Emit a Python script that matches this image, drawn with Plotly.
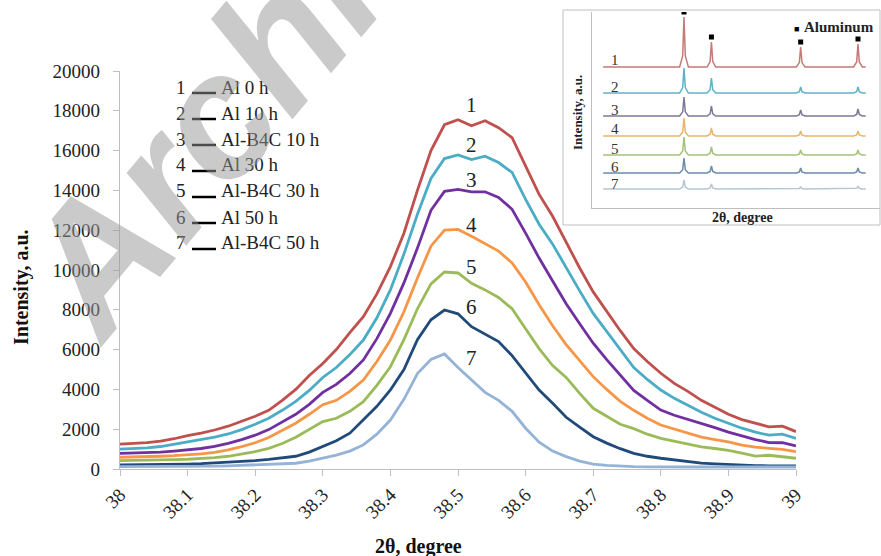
import plotly.graph_objects as go

W, H = 881, 556
def X(px): return px / W
def Y(py): return 1 - py / H

# ---------------- main data ----------------
TWO_THETA = [round(38 + 0.02 * i, 2) for i in range(51)]

AL_0H = [1250, 1280, 1330, 1400, 1520, 1680, 1800, 1960, 2150, 2400,
         2650, 2950, 3450, 4000, 4700, 5300, 6000, 6850, 7650, 8800,
         10170, 11850, 14000, 16000, 17300, 17550, 17250, 17500, 17150, 16650,
         15200, 13800, 12700, 11400, 10100, 8900, 7900, 6950, 6050, 5400,
         4810, 4300, 3900, 3450, 3100, 2750, 2480, 2300, 2120, 2150, 1880]
AL_10H = [1000, 1020, 1060, 1130, 1240, 1370, 1470, 1600, 1760, 1980,
          2250, 2550, 2950, 3400, 3950, 4600, 5100, 5750, 6480, 7600,
          9000, 10800, 12800, 14600, 15600, 15780, 15550, 15720, 15400, 14900,
          13550, 12300, 11300, 10100, 8950, 7820, 6900, 6000, 5100, 4500,
          3970, 3550, 3200, 2850, 2550, 2280, 2050, 1850, 1700, 1750, 1540]
ALB4C_10H = [790, 800, 820, 850, 900, 950, 1030, 1140, 1290, 1480,
             1700, 1980, 2350, 2750, 3250, 3850, 4250, 4800, 5480, 6550,
             7820, 9350, 11100, 13000, 13950, 14050, 13930, 13930, 13650, 13050,
             11850, 10600, 9450, 8300, 7300, 6320, 5500, 4700, 3950, 3450,
             2960, 2700, 2500, 2270, 2080, 1850, 1650, 1480, 1330, 1320, 1160]
AL_30H = [590, 600, 620, 640, 670, 700, 760, 840, 960, 1120,
          1320, 1580, 1930, 2300, 2750, 3230, 3450, 3900, 4470, 5400,
          6480, 7900, 9600, 11200, 12000, 12040, 11700, 11330, 10950, 10350,
          9400, 8250, 7200, 6250, 5450, 4640, 4000, 3400, 2950, 2550,
          2210, 2000, 1800, 1600, 1480, 1360, 1200, 1100, 1040, 990, 870]
ALB4C_30H = [420, 425, 435, 450, 470, 490, 520, 570, 640, 740,
             870, 1040, 1280, 1600, 1980, 2380, 2550, 2900, 3380, 4200,
             5140, 6500, 8050, 9300, 9900, 9850, 9330, 9000, 8620, 8050,
             7050, 6050, 5200, 4600, 3800, 3050, 2650, 2250, 2030, 1750,
             1540, 1400, 1250, 1110, 1030, 940, 800, 650, 690, 630, 540]
AL_50H = [200, 205, 210, 220, 235, 250, 270, 300, 340, 380,
          420, 480, 560, 640, 850, 1150, 1420, 1800, 2460, 3150,
          3970, 5000, 6500, 7500, 7990, 7800, 7150, 6780, 6400, 5700,
          4850, 3970, 3300, 2600, 2100, 1620, 1300, 1020, 790, 640,
          540, 450, 370, 300, 260, 220, 190, 170, 160, 160, 150]
ALB4C_50H = [120, 120, 120, 120, 120, 120, 130, 140, 160, 180,
             200, 230, 260, 290, 400, 560, 700, 900, 1210, 1750,
             2460, 3500, 4800, 5500, 5780, 5100, 4450, 3850, 3450, 2900,
             2050, 1350, 900, 620, 400, 250, 180, 140, 120, 110,
             100, 100, 100, 100, 100, 100, 100, 100, 100, 100, 100]

SERIES = [AL_0H, AL_10H, ALB4C_10H, AL_30H, ALB4C_30H, AL_50H, ALB4C_50H]
NAMES = ["Al 0 h", "Al 10 h", "Al-B4C 10 h", "Al 30 h", "Al-B4C 30 h", "Al 50 h", "Al-B4C 50 h"]
COLORS = ["#C0504D", "#4BACC6", "#7030A0", "#F79646", "#9BBB59", "#1F4A7A", "#95B3D7"]

X_TICKS = [38, 38.1, 38.2, 38.3, 38.4, 38.5, 38.6, 38.7, 38.8, 38.9, 39]
X_TICKTEXT = ["38", "38.1", "38.2", "38.3", "38.4", "38.5", "38.6", "38.7", "38.8", "38.9", "39"]
Y_TICKS = [0, 2000, 4000, 6000, 8000, 10000, 12000, 14000, 16000, 18000, 20000]
Y_TICKTEXT = [str(v) for v in Y_TICKS]

# curve number labels (value near each peak)
LABEL_X = 38.52
LABEL_Y = [18300, 16300, 14500, 12250, 10150, 8150, 5600]

# ---------------- inset data ----------------
INSET_PEAKS = [38.47, 44.74, 65.13, 78.23]
INSET_BASE = [141, 115, 92, 72, 53, 35, 19]
INSET_HEIGHTS = [[50, 25, 20, 23],
                 [25, 15, 6, 6],
                 [19, 10, 6, 7],
                 [18, 8, 5, 5],
                 [18, 8, 5, 5],
                 [15, 7, 5, 5],
                 [9, 5, 2, 3]]
INSET_START, INSET_END = 20, 80
INSET_COLORS = ["#C47A76", "#5DB2C6", "#7D7898", "#EAB46C", "#A6C278", "#6B8CAB", "#B8C6D2"]
MARKER_Y = [196, 171, 166, 169]
PEAK_DX = [-1.0, -0.3, 0, 0.3, 1.0]
PEAK_FRAC = [0, 0.22, 1, 0.22, 0]

fig = go.Figure()

for vals, c in zip(SERIES, COLORS):
    fig.add_trace(go.Scatter(x=TWO_THETA, y=vals, mode="lines",
                             line=dict(color=c, width=2.8), xaxis="x", yaxis="y"))

for base, hts, c in zip(INSET_BASE, INSET_HEIGHTS, INSET_COLORS):
    xs, ys = [INSET_START], [base]
    for p, h in zip(INSET_PEAKS, hts):
        for dx, f in zip(PEAK_DX, PEAK_FRAC):
            xs.append(p + dx)
            ys.append(base + f * h)
    xs.append(INSET_END)
    ys.append(base)
    fig.add_trace(go.Scatter(x=xs, y=ys, mode="lines", line=dict(color=c, width=1.5),
                             xaxis="x2", yaxis="y2"))

fig.add_trace(go.Scatter(x=INSET_PEAKS, y=MARKER_Y, mode="markers",
                         marker=dict(symbol="square", size=5, color="black"),
                         xaxis="x2", yaxis="y2"))

axis_common = dict(showgrid=False, zeroline=False, showline=True, linecolor="#BFBFBF",
                   linewidth=1.3, ticks="outside", ticklen=6, tickcolor="#BFBFBF",
                   tickfont=dict(family="Liberation Serif", size=19, color="#222"),
                   automargin=False)

fig.update_layout(
    width=W, height=H, margin=dict(l=0, r=0, t=0, b=0),
    paper_bgcolor="white", plot_bgcolor="rgba(0,0,0,0)", showlegend=False,
    xaxis=dict(domain=[X(120), X(796)], anchor="y", range=[38, 39],
               tickmode="array", tickvals=X_TICKS, ticktext=X_TICKTEXT, tickangle=-45,
               **axis_common),
    yaxis=dict(domain=[Y(469), Y(71)], anchor="x", range=[0, 20000],
               tickmode="array", tickvals=Y_TICKS, ticktext=Y_TICKTEXT,
               ticklabelstandoff=9, **axis_common),
    xaxis2=dict(domain=[X(592), X(880)], anchor="y2", range=[17.45, 83.26],
                showgrid=False, zeroline=False, showline=True, linecolor="#BFBFBF",
                showticklabels=False, ticks=""),
    yaxis2=dict(domain=[Y(208), Y(12)], anchor="x2", range=[0, 196],
                showgrid=False, zeroline=False, showline=True, linecolor="#BFBFBF",
                showticklabels=False, ticks=""),
)

shapes = [dict(type="rect", xref="paper", yref="paper", x0=X(563), x1=X(880),
               y0=Y(225), y1=Y(10), line=dict(color="#BFBFBF", width=1),
               fillcolor="rgba(0,0,0,0)", layer="below")]
ann = []
serif = "Liberation Serif"

def txt(text, px, py, size, xanchor="center", yanchor="middle", angle=0, color="#222",
        family=serif):
    ann.append(dict(text=text, x=X(px), y=Y(py), xref="paper", yref="paper",
                    xanchor=xanchor, yanchor=yanchor, textangle=angle, showarrow=False,
                    font=dict(family=family, size=size, color=color)))

# legend-like text block
for i, name in enumerate(NAMES):
    cy = 87 + 26 * i
    txt(str(i + 1), 188, cy, 19, xanchor="right")
    txt(name, 219, cy, 19, xanchor="left")
    shapes.append(dict(type="line", xref="paper", yref="paper", x0=X(192), x1=X(216),
                       y0=Y(cy + 6), y1=Y(cy + 6), line=dict(color="black", width=2.5)))

# curve number labels
for i, yv in enumerate(LABEL_Y):
    ann.append(dict(text=str(i + 1), x=LABEL_X, y=yv, xref="x", yref="y",
                    xanchor="center", yanchor="middle",
                    showarrow=False, font=dict(family=serif, size=21, color="#222")))

# axis titles
txt("<b>Intensity, a.u.</b>", 21, 287, 20, angle=-90, color="#111")
txt("<b>2θ, degree</b>", 418, 546, 20, color="#111")

# inset texts
for i, cy in enumerate([60, 87, 110, 129, 149, 167, 184]):
    txt(str(i + 1), 615, cy, 15, color="#333")
txt("<b>Intensity, a.u.</b>", 577, 113, 13, angle=-90)
txt("<b>2θ, degree</b>", 742, 217, 14)
txt("<b>■</b>", 796, 29, 9, color="black")
txt("<b>Aluminum</b>", 802, 27, 15, xanchor="left")

# watermark
txt("<b><i>Archive</i></b>", 262, 62, 175, angle=-50, color="rgba(150,150,150,0.5)",
    family="Liberation Sans")

fig.update_layout(shapes=shapes, annotations=ann)
fig.write_html("out.html")
